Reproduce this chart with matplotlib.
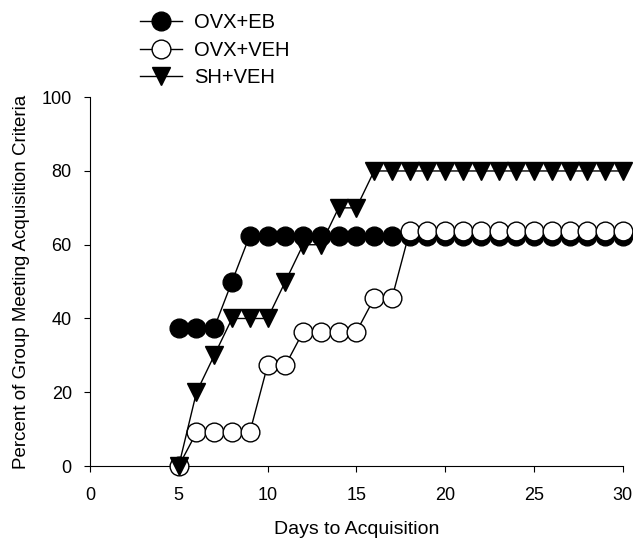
import matplotlib.pyplot as plt

plt.rcParams['font.family'] = ['Liberation Sans', 'DejaVu Sans']

days_eb = [5, 6, 7, 8] + list(range(9, 31))
pct_eb = [37.5, 37.5, 37.5, 50.0] + [62.5] * 22

days_veh = list(range(5, 31))
pct_veh = [0.0] + [9.09] * 4 + [27.27] * 2 + [36.36] * 4 + [45.45] * 2 + [63.64] * 13

days_sh = list(range(5, 31))
pct_sh = [0, 20, 30, 40, 40, 40, 50, 60, 60, 70, 70] + [80] * 15

fig = plt.figure(figsize=(6.33, 5.4), dpi=100)
ax = fig.add_axes([0.142, 0.137, 0.842, 0.683])

ax.plot(days_eb, pct_eb, color="black", marker="o", ms=13.5, mfc="black", mec="black",
        lw=1, clip_on=False, label="OVX+EB", zorder=3)
ax.plot(days_veh, pct_veh, color="black", marker="o", ms=13.5, mfc="white", mec="black",
        lw=1, clip_on=False, label="OVX+VEH", zorder=4)
ax.plot(days_sh, pct_sh, color="black", marker="v", ms=13.5, mfc="black", mec="black",
        lw=1, clip_on=False, label="SH+VEH", zorder=5)

ax.set_xlim(0, 30)
ax.set_ylim(0, 100)
ax.set_xticks(range(0, 31, 5))
ax.set_yticks(range(0, 101, 20))
ax.spines["top"].set_visible(False)
ax.spines["right"].set_visible(False)
ax.tick_params(labelsize=13, direction="out", length=4)
ax.tick_params(axis="x", pad=11)
ax.tick_params(axis="y", pad=9)
ax.set_xlabel("Days to Acquisition", fontsize=14, labelpad=12)
ax.set_ylabel("Percent of Group Meeting Acquisition Criteria", fontsize=13.5, labelpad=8)

fig.legend(loc="upper left", bbox_to_anchor=(0.221, 0.975), frameon=False, fontsize=14.5,
           borderpad=0, borderaxespad=0,
           handlelength=2.1, handletextpad=0.6, labelspacing=0.4)

fig.savefig("out.png", dpi=100)
